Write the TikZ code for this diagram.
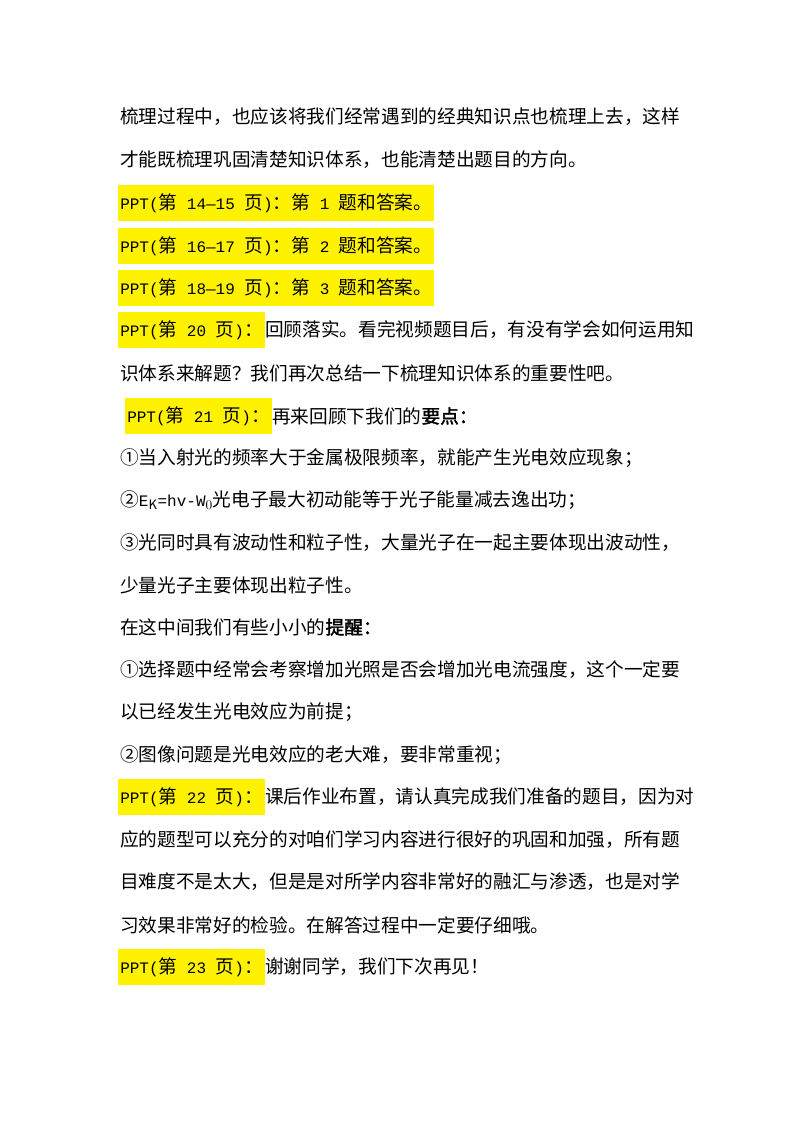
\documentclass[tikz,border=0pt]{standalone}
\usepackage{fontspec}
\setmainfont{Noto Sans CJK SC}[AutoFakeBold=2]
\newfontfamily\mono{Liberation Mono}
\newcommand{\mt}[1]{{\mono\fontsize{12pt}{16pt}\selectfont #1}}
\begin{document}
\begin{tikzpicture}[x=0.75pt,y=-0.75pt,
  ln/.style={anchor=west,inner sep=0pt,font=\fontsize{14pt}{16pt}\selectfont},
  hl/.style={anchor=west,inner xsep=1.5pt,inner ysep=0pt,minimum height=27pt,fill=yellow,font=\fontsize{14pt}{16pt}\selectfont}]
\useasboundingbox (0,0) rectangle (800,1132);
\node[ln] (l1) at (120,117) {梳理过程中，也应该将我们经常遇到的经典知识点也梳理上去，这样};
\node[ln] (l2) at (120,160) {才能既梳理巩固清楚知识体系，也能清楚出题目的方向。};
\node[hl] (l3) at (118,203) {\mt{PPT(}第\mt{ 14—15 }页\mt{)}：第\mt{ 1 }题和答案。};
\node[hl] (l4) at (118,246) {\mt{PPT(}第\mt{ 16—17 }页\mt{)}：第\mt{ 2 }题和答案。};
\node[hl] (l5) at (118,288) {\mt{PPT(}第\mt{ 18—19 }页\mt{)}：第\mt{ 3 }题和答案。};
\node[hl] (h6) at (118,330) {\mt{PPT(}第\mt{ 20 }页\mt{)}：};
\node[ln,anchor=west] (l6) at (h6.east) {回顾落实。看完视频题目后，有没有学会如何运用知};
\node[ln] (l7) at (120,373) {识体系来解题？我们再次总结一下梳理知识体系的重要性吧。};
\node[hl] (h8) at (125,416) {\mt{PPT(}第\mt{ 21 }页\mt{)}：};
\node[ln,anchor=west] (l8) at (h8.east) {再来回顾下我们的\textbf{要点：}};
\node[ln] (l9) at (120,458) {①当入射光的频率大于金属极限频率，就能产生光电效应现象；};
\node[ln] (l10) at (120,500) {②\mt{E}$_{\mathrm{K}}$\mt{=hv-W}$_{0}$光电子最大初动能等于光子能量减去逸出功；};
\node[ln] (l11) at (120,543) {③光同时具有波动性和粒子性，大量光子在一起主要体现出波动性，};
\node[ln] (l12) at (120,585) {少量光子主要体现出粒子性。};
\node[ln] (l13) at (120,627) {在这中间我们有些小小的\textbf{提醒：}};
\node[ln] (l14) at (120,670) {①选择题中经常会考察增加光照是否会增加光电流强度，这个一定要};
\node[ln] (l15) at (120,712) {以已经发生光电效应为前提；};
\node[ln] (l16) at (120,755) {②图像问题是光电效应的老大难，要非常重视；};
\node[hl] (h17) at (118,797) {\mt{PPT(}第\mt{ 22 }页\mt{)}：};
\node[ln,anchor=west] (l17) at (h17.east) {课后作业布置，请认真完成我们准备的题目，因为对};
\node[ln] (l18) at (120,840) {应的题型可以充分的对咱们学习内容进行很好的巩固和加强，所有题};
\node[ln] (l19) at (120,882) {目难度不是太大，但是是对所学内容非常好的融汇与渗透，也是对学};
\node[ln] (l20) at (120,925) {习效果非常好的检验。在解答过程中一定要仔细哦。};
\node[hl] (h21) at (118,967) {\mt{PPT(}第\mt{ 23 }页\mt{)}：};
\node[ln,anchor=west] (l21) at (h21.east) {谢谢同学，我们下次再见！};
\end{tikzpicture}
\end{document}
